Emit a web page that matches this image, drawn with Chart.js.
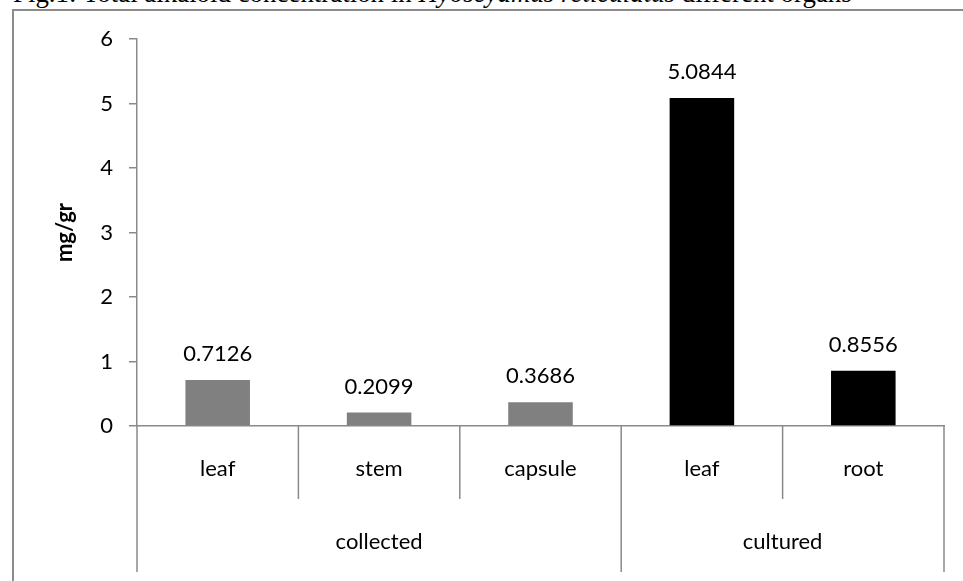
<!DOCTYPE html>
<html>
<head>
<meta charset="utf-8">
<script src="https://cdn.jsdelivr.net/npm/chart.js@4/dist/chart.umd.min.js"></script>
<style>
  html, body { margin: 0; padding: 0; background: #fff; overflow: hidden; }
  #wrap { position: relative; width: 963px; height: 581px; overflow: hidden; }
  #caption {
    position: absolute; left: 13px; top: -22px;
    font: 26.9px "Liberation Serif", "Times New Roman", serif;
    line-height: 30px; white-space: nowrap; color: #000;
  }
  #frame {
    position: absolute; left: 12px; top: 9px; width: 1000px; height: 700px;
    border-left: 2px solid #8c8c8c; border-top: 2px solid #8c8c8c;
  }
  canvas { position: absolute; left: 0; top: 0; }
</style>
</head>
<body>
<div id="wrap">
  <div id="caption">Fig.1: Total alkaloid concentration in <i>Hyoscyamus reticulatus</i> different organs</div>
  <div id="frame"></div>
  <canvas id="c" width="963" height="581" style="width:963px;height:581px"></canvas>
</div>
<script>
// Organ categories, grouped by plant source
const organs = ['leaf', 'stem', 'capsule', 'leaf', 'root'];
const alkaloid = [0.7126, 0.2099, 0.3686, 5.0844, 0.8556];   // mg/gr
const groups = ['collected', 'cultured'];
const groupSizes = [3, 2];
const barColors = ['#808080', '#808080', '#808080', '#000000', '#000000'];
const yMin = 0, yMax = 6, yStep = 1;

const FONT = 'Lato, "Open Sans", sans-serif';
const AXIS = '#8a8a8a';

// Draws category dividers, group labels and value labels
const groupAxis = {
  id: 'groupAxis',
  afterDraw(chart) {
    const ctx = chart.ctx;
    const x = chart.scales.x;
    const base = chart.scales.y.getPixelForValue(0);
    const step = x.getPixelForValue(1) - x.getPixelForValue(0);
    const edge = i => x.getPixelForValue(i) - step / 2;

    const groupEdges = [0];
    groupSizes.forEach(n => groupEdges.push(groupEdges[groupEdges.length - 1] + n));

    ctx.save();
    ctx.strokeStyle = AXIS;
    ctx.lineWidth = 1.5;
    for (let i = 0; i <= organs.length; i++) {
      const px = edge(i);
      const long = groupEdges.includes(i);
      ctx.beginPath();
      ctx.moveTo(px, base);
      ctx.lineTo(px, base + (long ? 146 : 73));
      ctx.stroke();
    }

    ctx.fillStyle = '#000';
    ctx.font = '22px ' + FONT;
    ctx.textAlign = 'center';
    ctx.textBaseline = 'middle';
    groups.forEach((g, k) => {
      const cx = (edge(groupEdges[k]) + edge(groupEdges[k + 1])) / 2;
      ctx.fillText(g, cx, base + 116);
    });

    const meta = chart.getDatasetMeta(0);
    meta.data.forEach((bar, i) => {
      ctx.fillText(String(alkaloid[i]), bar.x, bar.y - 26);
    });
    ctx.restore();
  }
};

new Chart(document.getElementById('c'), {
  type: 'bar',
  data: {
    labels: organs,
    datasets: [{
      data: alkaloid,
      backgroundColor: barColors,
      borderWidth: 0,
      barPercentage: 0.4,
      categoryPercentage: 1
    }]
  },
  options: {
    responsive: false,
    animation: false,
    layout: { padding: { left: 0, top: 39, right: 19, bottom: 0 } },
    plugins: { legend: { display: false }, tooltip: { enabled: false } },
    scales: {
      x: {
        grid: { display: false, drawTicks: false },
        border: { display: true, color: AXIS, width: 1.5 },
        ticks: { color: '#000', font: { family: FONT, size: 22 }, padding: 30, maxRotation: 0 },
        afterFit: s => { s.height = 155; }
      },
      y: {
        min: yMin, max: yMax,
        grid: { drawOnChartArea: false, drawTicks: true, tickLength: 8, color: AXIS, lineWidth: 1.5 },
        border: { display: true, color: AXIS, width: 1.5 },
        ticks: { stepSize: yStep, color: '#000', font: { family: FONT, size: 22 }, padding: 16 },
        title: {
          display: true, text: 'mg/gr', color: '#000',
          font: { family: FONT, size: 22, weight: 'bold' },
          padding: { top: 52, bottom: 0 }
        },
        afterFit: s => { s.width = 137; }
      }
    }
  },
  plugins: [groupAxis]
});
</script>
</body>
</html>
